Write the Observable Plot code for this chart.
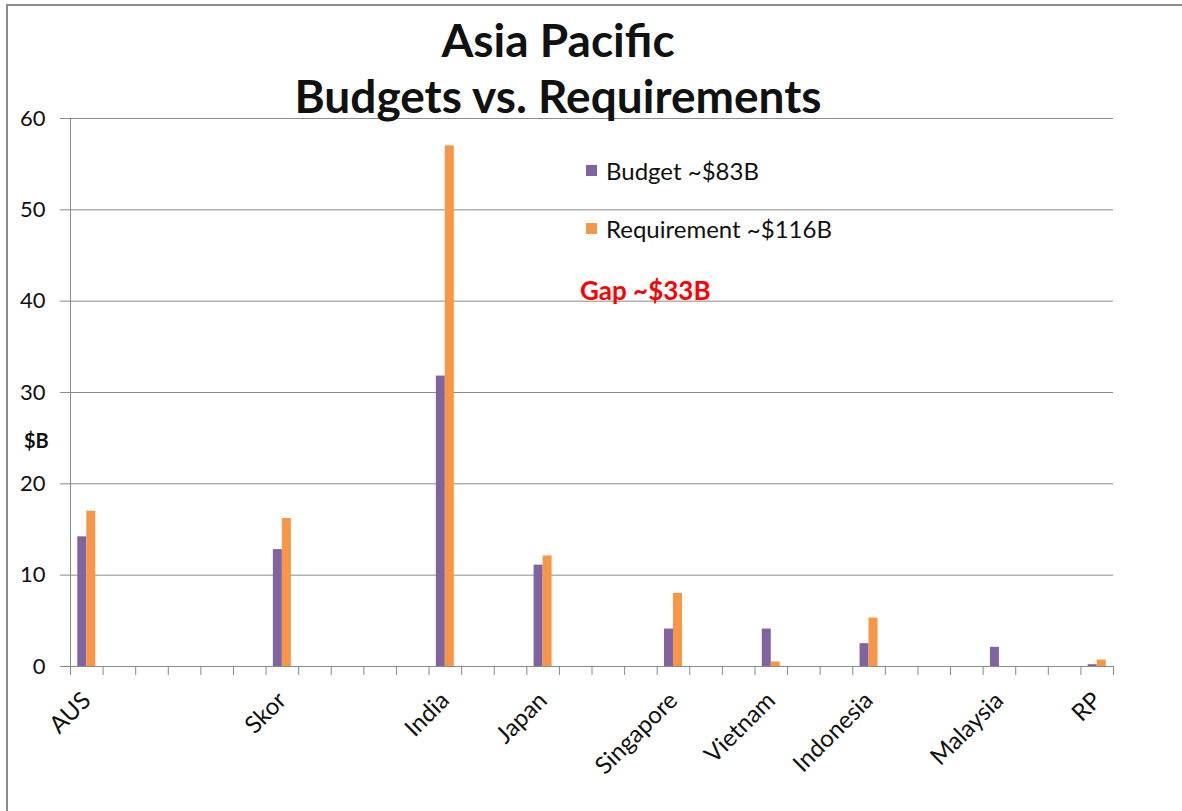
<!DOCTYPE html>
<html><head><meta charset="utf-8">
<script src="https://cdn.jsdelivr.net/npm/d3@7"></script>
<script src="https://cdn.jsdelivr.net/npm/@observablehq/plot@0.6"></script>
<style>
html,body{margin:0;padding:0;background:#fff;}
#wrap{position:relative;width:1182px;height:811px;overflow:hidden;font-family:Lato,"Open Sans",sans-serif;color:#111;}
#chart{position:absolute;left:0;top:0;}
#border{position:absolute;left:6px;top:4px;width:1200px;height:900px;border-top:2px solid #8c8c8c;border-left:2px solid #8c8c8c;}
#title{position:absolute;left:258px;width:600px;top:12px;text-align:center;font-weight:bold;font-size:46px;line-height:56px;}
#legend{position:absolute;left:586px;top:156px;font-size:24px;}
.li{display:flex;align-items:center;height:28px;margin-bottom:30px;}
.sw{width:11px;height:11px;margin-right:9px;}
#gap{position:absolute;left:580px;top:275px;font-size:26px;font-weight:bold;color:#ff0000;line-height:1.2;}
#ylab{position:absolute;left:24px;top:428px;font-size:20px;font-weight:bold;line-height:1.2;}
</style>
</head><body>
<div id="wrap">
  <div id="chart"></div>
  <div id="border"></div>
  <div id="title"></div>
  <div id="legend"></div>
  <div id="gap"></div>
  <div id="ylab"></div>
</div>
<script>
// Categories on the axis (blank slots are empty categories in the source sheet)
const categories = ["AUS","","","","","","Skor","","","","","India","","","Japan","","","","Singapore","","","Vietnam","","","Indonesia","","","","Malaysia","","","RP"];
const countries = ["AUS","Skor","India","Japan","Singapore","Vietnam","Indonesia","Malaysia","RP"];
const budget = [14.2, 12.8, 31.8, 11.1, 4.1, 4.1, 2.5, 2.1, 0.2];
const requirement = [17.0, 16.2, 57.0, 12.1, 8.0, 0.5, 5.3, 0, 0.7];
const yTicks = [0, 10, 20, 30, 40, 50, 60];
const seriesNames = ["Budget ~$83B", "Requirement ~$116B"];
const colors = ["#8064A2", "#F79646"];
const titleLines = ["Asia Pacific", "Budgets vs. Requirements"];
const gapText = "Gap ~$33B";
const yLabel = "$B";

const rows = countries.map((c, i) => ({country: c, slot: categories.indexOf(c), budget: budget[i], requirement: requirement[i]}));

const W = 1182, H = 811, mL = 70, mR = 69, mT = 118, mB = 145;
const slotW = (W - mL - mR) / categories.length;
const barW = 9;
const pad = (slotW - 2 * barW) / 2;
const gridColor = "#8a8a8a";

const chart = Plot.plot({
  width: W, height: H,
  marginLeft: mL, marginRight: mR, marginTop: mT, marginBottom: mB,
  style: {fontFamily: "Lato, 'Open Sans', sans-serif", fontSize: "22px", color: "#111", background: "transparent", overflow: "visible"},
  x: {type: "linear", domain: [0, categories.length], axis: null, label: null},
  y: {domain: [0, 60], axis: null, label: null},
  marks: [
    Plot.gridY({ticks: yTicks, stroke: gridColor, strokeOpacity: 1}),
    Plot.axisY({ticks: yTicks, tickSize: 10, tickPadding: 15, stroke: gridColor, strokeOpacity: 1, fill: "#111", fontSize: 22, label: null}),
    Plot.rectY(rows, {x1: "slot", x2: d => d.slot + 1, y: "budget", fill: colors[0], insetLeft: pad, insetRight: pad + barW}),
    Plot.rectY(rows, {x1: "slot", x2: d => d.slot + 1, y: "requirement", fill: colors[1], insetLeft: pad + barW, insetRight: pad}),
    Plot.ruleX([0], {stroke: gridColor}),
    Plot.ruleY([0], {stroke: gridColor}),
    Plot.axisX({ticks: d3.range(categories.length + 1), tickSize: 9, tickFormat: () => "", stroke: gridColor, strokeOpacity: 1, label: null}),
    Plot.axisX({ticks: d3.range(categories.length).map(i => i + 0.5), tickSize: 0, tickPadding: 30, tickFormat: d => categories[Math.floor(d)], tickRotate: -45, fill: "#111", fontSize: 24, label: null})
  ]
});
document.getElementById("chart").appendChild(chart);

document.getElementById("title").innerHTML = titleLines.map(t => `<div>${t}</div>`).join("");
document.getElementById("legend").innerHTML = seriesNames.map((s, i) =>
  `<div class="li"><div class="sw" style="background:${colors[i]}"></div><span>${s.replace("$", "&#36;")}</span></div>`).join("");
document.getElementById("gap").textContent = gapText;
document.getElementById("ylab").textContent = yLabel;
</script>
</body></html>
